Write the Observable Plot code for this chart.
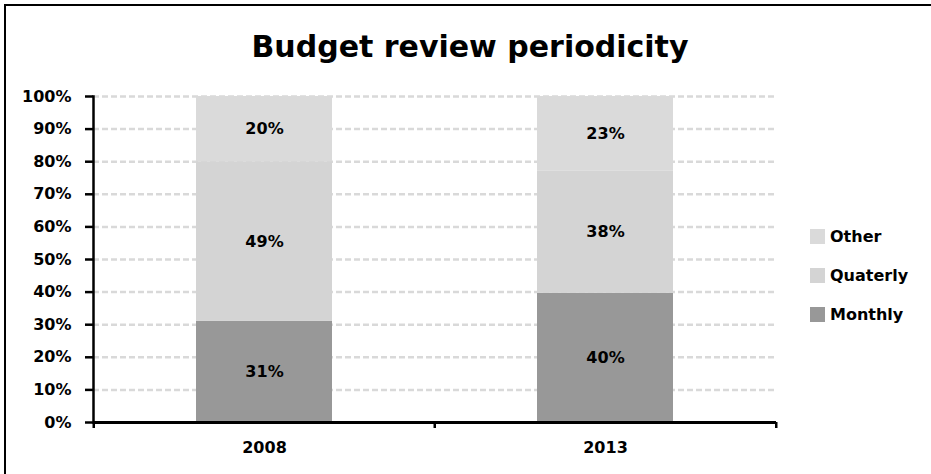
<!DOCTYPE html>
<html>
<head>
<meta charset="utf-8">
<script src="https://cdn.jsdelivr.net/npm/d3@7"></script>
<script src="https://cdn.jsdelivr.net/npm/@observablehq/plot@0.6"></script>
<style>
  body { margin: 0; background: #fff; }
  #wrap { position: relative; width: 931px; height: 474px; overflow: hidden; font-family: "DejaVu Sans", sans-serif; background: #fff; }
  #frameBox { position: absolute; left: 4px; top: 4px; width: 960px; height: 500px; border-left: 2px solid #000; border-top: 2px solid #000; pointer-events: none; }
  #title { position: absolute; left: 0; width: 940px; top: 32px; text-align: center; font-size: 30px; line-height: 30px; font-weight: bold; color: #000; white-space: nowrap; }
  #chart { position: absolute; left: 0; top: 0; }
  #legend { position: absolute; left: 810px; top: 229px; }
  .item { display: flex; align-items: center; height: 15px; margin-bottom: 24px; font-size: 16px; line-height: 16px; font-weight: bold; color: #000; white-space: nowrap; }
  .sw { width: 15px; height: 15px; margin-right: 5px; flex: none; }
</style>
</head>
<body>
<div id="wrap">
  <div id="chart"></div>
  <div id="frameBox"></div>
  <div id="title"></div>
  <div id="legend"></div>
</div>
<script>
// ---- data ----
const titleText = "Budget review periodicity";
const years = ["2008", "2013"];
const seriesNames = ["Monthly", "Quaterly", "Other"];
const monthly = [31, 39.6];
const quaterly = [49, 37.6];
const other = [20, 22.8];
const yTicks = [0, 10, 20, 30, 40, 50, 60, 70, 80, 90, 100];
const seriesColors = ["#989898", "#d4d4d4", "#dadada"];
const legendOrder = ["Other", "Quaterly", "Monthly"];

// ---- table ----
const valuesBySeries = { Monthly: monthly, Quaterly: quaterly, Other: other };
const data = years.flatMap((yr, i) =>
  seriesNames.map(s => ({ year: yr, series: s, value: valuesBySeries[s][i] }))
);

// ---- layout ----
const W = 931, H = 474;
const mL = 93, mR = 155, mT = 96, mB = 52;
const step = (W - mL - mR) / years.length;
const plotH = H - mT - mB;

const chart = Plot.plot({
  width: W,
  height: H,
  marginLeft: mL,
  marginRight: mR,
  marginTop: mT,
  marginBottom: mB,
  style: { fontFamily: "DejaVu Sans, sans-serif", fontSize: "16px", background: "transparent", color: "#000" },
  x: { domain: years, paddingInner: 0.6, paddingOuter: 0.3, axis: null, label: null },
  y: { domain: [0, 100], axis: null, label: null },
  color: { domain: seriesNames, range: seriesColors },
  marks: [
    Plot.ruleY(yTicks.filter(d => d > 0), { stroke: "#d9d9d9", strokeWidth: 2.5, strokeDasharray: "6,3" }),
    Plot.barY(data, { x: "year", y: "value", fill: "series", order: seriesNames }),
    Plot.text(data, Plot.stackY({
      x: "year", y: "value", z: "series", order: seriesNames,
      text: d => Math.round(d.value) + "%",
      fontWeight: "bold", fontSize: 16, fill: "#000"
    })),
    Plot.axisY({
      ticks: yTicks, tickFormat: d => d + "%", tickSize: 8, tickPadding: 14, label: null,
      fontWeight: "bold", fontSize: 16, stroke: "#000", strokeWidth: 2.5, fill: "#000"
    }),
    Plot.axisX({ tickSize: 0, tickPadding: 19, label: null, fontWeight: "bold", fontSize: 16, fill: "#000" }),
    Plot.ruleX(years, { x: d => d, dx: -step / 2, insetTop: plotH, insetBottom: -6, stroke: "#000", strokeWidth: 2.5 }),
    Plot.ruleX([years[years.length - 1]], { x: d => d, dx: step / 2, insetTop: plotH, insetBottom: -6, stroke: "#000", strokeWidth: 2.5 }),
    Plot.frame({ anchor: "left", stroke: "#000", strokeWidth: 2.5 }),
    Plot.ruleY([0], { stroke: "#000", strokeWidth: 3 })
  ]
});
document.getElementById("chart").appendChild(chart);

document.getElementById("title").textContent = titleText;

const legend = document.getElementById("legend");
const colorOf = Object.fromEntries(seriesNames.map((s, i) => [s, seriesColors[i]]));
legendOrder.forEach(s => {
  const it = document.createElement("div");
  it.className = "item";
  const sw = document.createElement("span");
  sw.className = "sw";
  sw.style.background = colorOf[s];
  const tx = document.createElement("span");
  tx.textContent = s;
  it.appendChild(sw);
  it.appendChild(tx);
  legend.appendChild(it);
});
</script>
</body>
</html>
